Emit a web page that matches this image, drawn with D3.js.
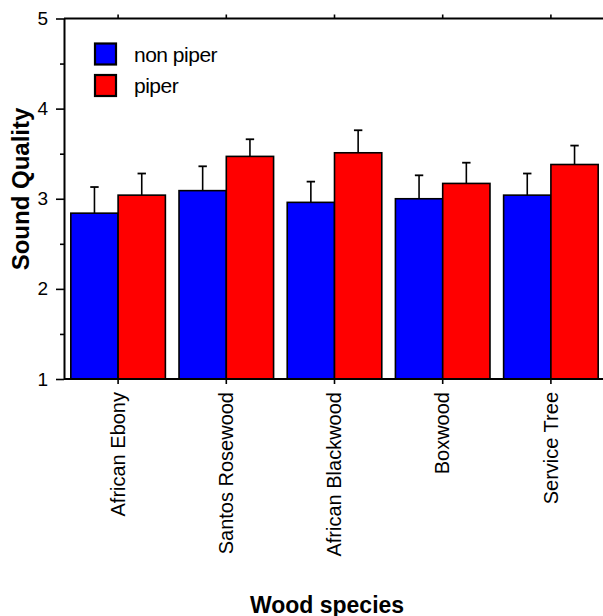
<!DOCTYPE html>
<html>
<head>
<meta charset="utf-8">
<script src="https://cdn.jsdelivr.net/npm/d3@7/dist/d3.min.js"></script>
<style>
  html, body { margin: 0; padding: 0; background: #fff; }
  svg { display: block; font-family: "Liberation Sans", Arial, sans-serif; }
</style>
</head>
<body>
<svg id="chart" width="603" height="616"></svg>
<script>
const categories = ["African Ebony", "Santos Rosewood", "African Blackwood", "Boxwood", "Service Tree"];
const seriesNames = ["non piper", "piper"];
const nonPiper = [2.84, 3.09, 2.96, 3.00, 3.04];
const nonPiperErr = [0.29, 0.27, 0.23, 0.26, 0.24];
const piper = [3.04, 3.47, 3.51, 3.17, 3.38];
const piperErr = [0.24, 0.19, 0.25, 0.23, 0.21];
const yTicks = [1, 2, 3, 4, 5];
const yMinorTicks = [1.5, 2.5, 3.5, 4.5];
const colors = ["#0000ff", "#ff0000"];

(function () {
const svg = d3.select("#chart");
const mLeft = 64, mRight = 605, mTop = 18.5, mBottom = 379;

const x = d3.scaleBand().domain(categories).range([mLeft, mRight]).paddingInner(0.126).paddingOuter(0.063);
const xs = d3.scaleBand().domain(seriesNames).range([0, x.bandwidth()]);
const y = d3.scaleLinear().domain([1, 5]).range([mBottom, mTop]);

const data = categories.map((c, i) => ({
  cat: c,
  vals: [
    { s: seriesNames[0], v: nonPiper[i], e: nonPiperErr[i], c: colors[0] },
    { s: seriesNames[1], v: piper[i], e: piperErr[i], c: colors[1] }
  ]
}));

const g = svg.append("g");
data.forEach(d => {
  d.vals.forEach(v => {
    const cx = x(d.cat) + xs(v.s) + xs.bandwidth() / 2;
    g.append("line").attr("x1", cx).attr("x2", cx)
      .attr("y1", y(v.v)).attr("y2", y(v.v + v.e))
      .attr("stroke", "#000").attr("stroke-width", 1.6);
    g.append("line").attr("x1", cx - 4.2).attr("x2", cx + 4.2)
      .attr("y1", y(v.v + v.e)).attr("y2", y(v.v + v.e))
      .attr("stroke", "#000").attr("stroke-width", 1.8);
  });
});

data.forEach(d => {
  g.selectAll(null).data(d.vals).enter().append("rect")
    .attr("x", v => x(d.cat) + xs(v.s))
    .attr("y", v => y(v.v))
    .attr("width", xs.bandwidth())
    .attr("height", v => y(1) - y(v.v))
    .attr("fill", v => v.c)
    .attr("stroke", "#000")
    .attr("stroke-width", 1.6);
});

const yAxis = svg.append("g").attr("transform", `translate(${mLeft},0)`)
  .call(d3.axisLeft(y).tickValues(yTicks).tickSize(8).tickSizeOuter(0).tickPadding(8).tickFormat(d3.format("d")));
yAxis.selectAll("text").attr("font-size", "19px").attr("fill", "#000").attr("font-family", "Liberation Sans, Arial, sans-serif");
const yMinor = svg.append("g").attr("transform", `translate(${mLeft},0)`)
  .call(d3.axisLeft(y).tickValues(yMinorTicks).tickSize(4).tickSizeOuter(0).tickFormat(""));
yMinor.select(".domain").remove();

const xAxisB = svg.append("g").attr("transform", `translate(0,${mBottom})`)
  .call(d3.axisBottom(x).tickSize(5).tickSizeOuter(0).tickPadding(0));
xAxisB.selectAll("text")
  .attr("font-size", "20px").attr("fill", "#000").attr("font-family", "Liberation Sans, Arial, sans-serif")
  .attr("text-anchor", "end")
  .attr("transform", "rotate(-90)")
  .attr("x", -13).attr("y", 0).attr("dy", "0.33em");
xAxisB.select(".domain").attr("d", `M${mLeft},0H603`);

const xAxisT = svg.append("g").attr("transform", `translate(0,${mTop})`)
  .call(d3.axisTop(x).tickSize(4).tickSizeOuter(0).tickFormat(""));
xAxisT.select(".domain").attr("d", `M${mLeft},0H603`);

svg.selectAll(".domain").attr("stroke", "#000").attr("stroke-width", 2);
svg.selectAll(".tick line").attr("stroke", "#000").attr("stroke-width", 1.6);

svg.append("text").attr("transform", "translate(29,189) rotate(-90)")
  .attr("text-anchor", "middle").attr("font-size", "24px").attr("font-weight", "bold")
  .text("Sound Quality");
svg.append("text").attr("x", 327).attr("y", 612.5)
  .attr("text-anchor", "middle").attr("font-size", "23px").attr("font-weight", "bold")
  .text("Wood species");

const lg = svg.append("g");
seriesNames.forEach((s, i) => {
  lg.append("rect").attr("x", 95).attr("y", 43.5 + i * 31.5).attr("width", 21).attr("height", 21)
    .attr("fill", colors[i]).attr("stroke", "#000").attr("stroke-width", 2.2);
  lg.append("text").attr("x", 134).attr("y", 61.5 + i * 31.5).attr("font-size", "21px")
    .attr("letter-spacing", "-0.5px").text(s);
});
})();
</script>
</body>
</html>
